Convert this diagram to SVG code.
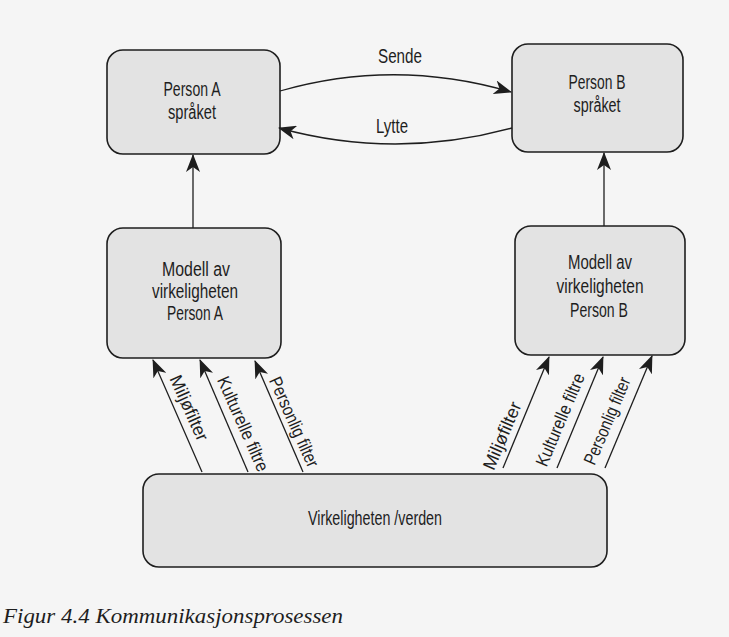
<svg xmlns="http://www.w3.org/2000/svg" width="729" height="637" viewBox="0 0 729 637">
<defs>
<marker id="ah" markerUnits="userSpaceOnUse" viewBox="0 0 18 14" markerWidth="18" markerHeight="14" refX="17" refY="7" orient="auto">
<path d="M0,0 L18,7 L0,14 L5,7 z" fill="#1e1e1e"/>
</marker>
<style>
.box{fill:#e3e3e3;stroke:#1e1e1e;stroke-width:1.6}
.t{font-family:"Liberation Sans",Arial,sans-serif;font-size:19.5px;fill:#1e1e1e;text-anchor:middle}
.f{font-family:"Liberation Sans",Arial,sans-serif;font-size:18px;fill:#1e1e1e;text-anchor:middle}
.c{fill:none;stroke:#1e1e1e;stroke-width:1.3;marker-end:url(#ah)}
.cap{font-family:"Liberation Serif","Times New Roman",serif;font-style:italic;font-size:20px;fill:#1e1e1e}
</style>
</defs>
<rect width="729" height="637" fill="#f5f5f5"/>
<g id="personA">
<rect class="box" x="107" y="50" width="173" height="104" rx="16"/>
<text class="t" x="192" y="96" textLength="57" lengthAdjust="spacingAndGlyphs">Person A</text>
<text class="t" x="192" y="119" textLength="48" lengthAdjust="spacingAndGlyphs">språket</text>
</g>
<g id="personB">
<rect class="box" x="512" y="44" width="171" height="108" rx="16"/>
<text class="t" x="597" y="89" textLength="57" lengthAdjust="spacingAndGlyphs">Person B</text>
<text class="t" x="597" y="112" textLength="47" lengthAdjust="spacingAndGlyphs">språket</text>
</g>
<g id="modellA">
<rect class="box" x="107" y="228" width="174" height="130" rx="16"/>
<text class="t" x="196" y="276" textLength="68" lengthAdjust="spacingAndGlyphs">Modell av</text>
<text class="t" x="195" y="298" textLength="86" lengthAdjust="spacingAndGlyphs">virkeligheten</text>
<text class="t" x="195" y="320" textLength="56" lengthAdjust="spacingAndGlyphs">Person A</text>
</g>
<g id="modellB">
<rect class="box" x="515" y="226" width="170" height="129" rx="16"/>
<text class="t" x="600" y="269" textLength="64" lengthAdjust="spacingAndGlyphs">Modell av</text>
<text class="t" x="600" y="293" textLength="87" lengthAdjust="spacingAndGlyphs">virkeligheten</text>
<text class="t" x="599" y="317" textLength="58" lengthAdjust="spacingAndGlyphs">Person B</text>
</g>
<g id="virkeligheten">
<rect class="box" x="143" y="474" width="464" height="93" rx="16"/>
<text class="t" x="375" y="525" textLength="134" lengthAdjust="spacingAndGlyphs">Virkeligheten /verden</text>
</g>
<g id="connectors">
<path class="c" d="M280,91 Q395,58 511,92"/>
<path class="c" d="M512,128 Q395,160 279,128"/>
<path class="c" d="M193,228 L193,155"/>
<path class="c" d="M604,226 L604,153"/>
<path class="c" d="M202,472 L153,360"/>
<path class="c" d="M248,472 L200,360"/>
<path class="c" d="M303,472 L255,361"/>
<path class="c" d="M503,468 L549,357"/>
<path class="c" d="M557,468 L603,357"/>
<path class="c" d="M605,468 L652,356"/>
<text class="t" x="400" y="63" textLength="44" lengthAdjust="spacingAndGlyphs">Sende</text>
<text class="t" x="392" y="133" textLength="32" lengthAdjust="spacingAndGlyphs">Lytte</text>
<text class="f" transform="translate(189,408) rotate(66)" x="0" y="6" textLength="70" lengthAdjust="spacingAndGlyphs">Miljøfilter</text>
<text class="f" transform="translate(243,424) rotate(66)" x="0" y="6" textLength="102" lengthAdjust="spacingAndGlyphs">Kulturelle filtre</text>
<text class="f" transform="translate(294,422) rotate(66)" x="0" y="6" textLength="97" lengthAdjust="spacingAndGlyphs">Personlig filter</text>
<text class="f" transform="translate(505,437) rotate(-67)" x="0" y="3" textLength="72" lengthAdjust="spacingAndGlyphs">Miljøfilter</text>
<text class="f" transform="translate(563,421) rotate(-67)" x="0" y="3" textLength="99" lengthAdjust="spacingAndGlyphs">Kulturelle filtre</text>
<text class="f" transform="translate(610,422) rotate(-67)" x="0" y="3" textLength="93" lengthAdjust="spacingAndGlyphs">Personlig filter</text>
</g>
<text class="cap" x="3" y="623" textLength="340" lengthAdjust="spacingAndGlyphs">Figur 4.4 Kommunikasjonsprosessen</text>
</svg>
